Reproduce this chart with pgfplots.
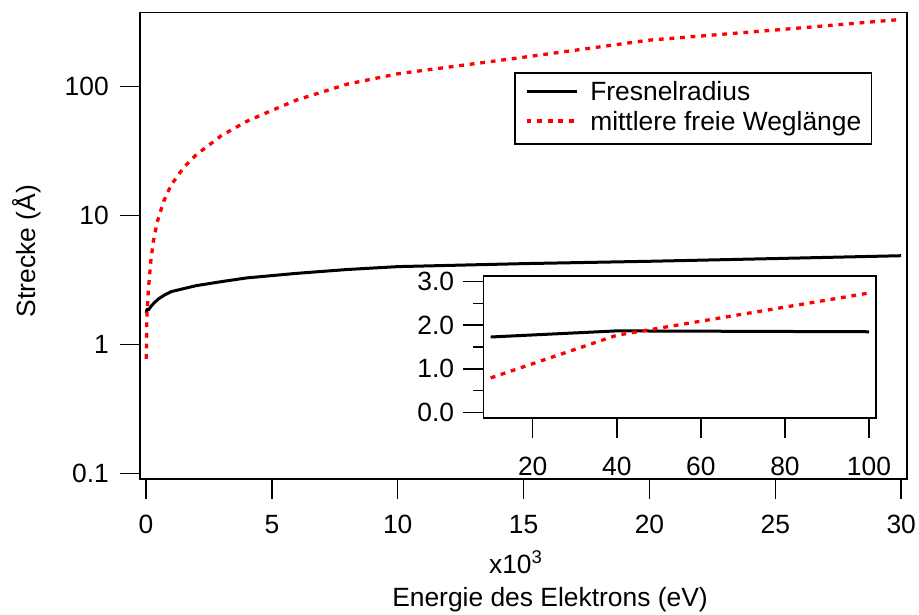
\documentclass[border=0pt]{standalone}
\usepackage{pgfplots}
\pgfplotsset{compat=1.18}
\usepackage{fontspec}
\setmainfont{Liberation Sans}
\pgfplotstableread{
x y
0.01 1.74
0.04 1.87
0.1 1.85
0.2 1.97
0.35 2.12
0.5 2.25
0.75 2.42
1 2.56
2 2.85
3 3.06
4 3.27
6 3.55
8 3.80
10 4.00
15 4.22
20 4.40
25 4.62
30 4.86
}\fresnel
\pgfplotstableread{
x y
0.01 0.77
0.04 1.77
0.1 2.74
0.2 4.6
0.3 6.4
0.45 8.9
0.7 12.8
1 17.2
1.5 23.5
2 29.5
3 41.5
4 53.5
5 65
6 78.5
8 104
10 125
15 168
20 228
25 273
30 330
}\weg
\pgfplotstableread{
x y
10 1.73
40 1.87
100 1.85
}\fresnelin
\pgfplotstableread{
x y
10 0.79
40 1.77
100 2.74
}\wegin
\begin{document}
\fontsize{13.2bp}{15.8bp}\selectfont
\begin{tikzpicture}[font=\fontsize{13.2bp}{15.8bp}\selectfont]
\path[use as bounding box] (0bp,0bp) rectangle (459.5bp,307.5bp);
\begin{axis}[
  at={(70bp,68bp)}, anchor=south west,
  scale only axis, width=383.5bp, height=233.15bp,
  xmin=-0.238, xmax=30.23,
  ymode=log, ymin=0.0903, ymax=372,
  axis line style={line width=0.75bp},
  every tick/.style={black, line width=0.75bp},
  tick align=outside, major tick length=10bp,
  xtick pos=left, ytick pos=left,
  xtick={0,5,10,15,20,25,30}, xticklabels={0,5,10,15,20,25,30},
  ytick={0.1,1,10,100}, yticklabels={0.1,1,10,100},
  xticklabel style={yshift=-3.5bp},
  yticklabel style={xshift=-1bp},
  yminorticks=false,
  scaled x ticks=false,
  legend style={at={(0.9544,0.8722)}, anchor=north east, draw=black, line width=0.75bp,
    inner xsep=5bp, inner ysep=4.25bp, row sep=3bp, column sep=6bp,
    nodes={inner sep=0pt, text height=9.5bp, text depth=2.5bp, anchor=base west},
    font=\fontsize{13.2bp}{15.8bp}\selectfont},
  legend cell align=left,
  legend image code/.code={\draw[#1] (0bp,4.7bp) -- (25bp,4.7bp);},
]
\addplot[black, line width=1.5bp, line join=round] table[x=x,y=y] {\fresnel};
\addlegendentry{Fresnelradius}
\addplot[red, line width=1.65bp, dash pattern=on 2.4bp off 2.9bp] table[x=x,y=y] {\weg};
\addlegendentry{mittlere freie Weglänge}
\end{axis}
\begin{axis}[
  at={(241.65bp,98.5bp)}, anchor=south west,
  scale only axis, width=196.35bp, height=71bp,
  xmin=8.24, xmax=101.67, ymin=-0.131, ymax=3.131,
  axis background/.style={fill=white},
  axis line style={line width=0.75bp},
  every tick/.style={black, line width=0.75bp},
  tick align=outside, major tick length=10bp, minor tick length=5bp,
  xtick pos=left, ytick pos=left,
  xtick={20,40,60,80,100}, xticklabels={20,40,60,80,100},
  ytick={0,1,2,3}, yticklabels={0.0,1.0,2.0,3.0},
  xticklabel style={yshift=-5bp},
  minor ytick={0.5,1.5,2.5},
]
\addplot[black, line width=1.5bp, line join=round] table[x=x,y=y] {\fresnelin};
\addplot[red, line width=1.65bp, dash pattern=on 2.4bp off 2.9bp] table[x=x,y=y] {\wegin};
\end{axis}
\node at (258bp,26.5bp) {x10\textsuperscript{3}};
\node at (275bp,7.5bp) {Energie des Elektrons (eV)};
\node[rotate=90] at (13.5bp,182bp) {Strecke (Å)};
\end{tikzpicture}
\end{document}
